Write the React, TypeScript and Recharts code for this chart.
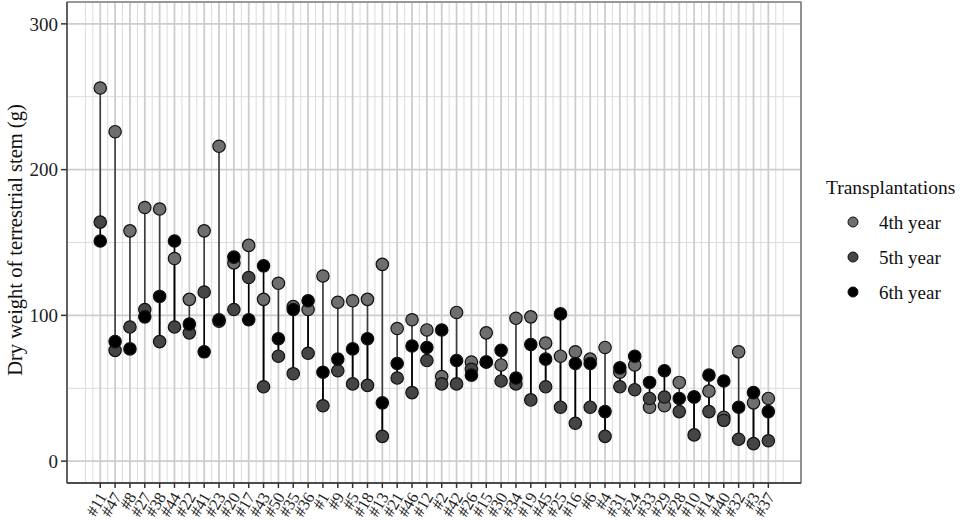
import React from "react";
import { ComposedChart, Scatter, XAxis, YAxis, CartesianGrid, ErrorBar, ReferenceArea } from "recharts";

const FONT = '"Liberation Serif", "Times New Roman", "DejaVu Serif", serif';

const categories = ["#11","#47","#8","#27","#38","#44","#22","#41","#23","#20","#17","#43","#50","#35","#36","#1","#9","#5","#18","#13","#21","#46","#12","#2","#42","#26","#15","#30","#34","#19","#45","#25","#16","#6","#4","#31","#24","#33","#29","#28","#10","#14","#40","#32","#3","#37"];
const year4 = [256,226,158,174,173,139,111,158,216,136,148,111,122,106,104,127,109,110,111,135,91,97,90,58,102,68,88,66,98,99,81,72,75,70,78,61,66,37,38,54,44,48,30,75,40,43];
const year5 = [164,76,92,104,82,92,88,116,96,104,126,51,72,60,74,38,62,53,52,17,57,47,69,53,53,63,68,55,53,42,51,37,26,37,17,51,49,43,44,34,18,34,28,15,12,14];
const year6 = [151,82,77,99,113,151,94,75,97,140,97,134,84,104,110,61,70,77,84,40,67,79,78,90,69,59,68,76,57,80,70,101,67,67,34,64,72,54,62,43,44,59,55,37,47,34];

const yTicks = [0, 100, 200, 300];
const yMinorTicks = [50, 150, 250];
const seriesNames = ["4th year", "5th year", "6th year"];
const seriesFills = ["#6e6e6e", "#454545", "#000000"];
const yTitle = "Dry weight of terrestrial stem (g)";
const legendTitle = "Transplantations";

const X_DOMAIN: [number, number] = [-1.24, 48.2];
const Y_DOMAIN: [number, number] = [-15, 315];

const span = (a: number, b: number) => (b < a ? [a - b, 0] : [0, b - a]);

const rows = categories.map((label, i) => ({
  pos: i + 1,
  label,
  y4: year4[i],
  y5: year5[i],
  y6: year6[i],
  d45: span(year4[i], year5[i]),
  d56: span(year5[i], year6[i]),
}));

const xTicks = rows.map((r) => r.pos);
const xMinor = [0, 0.5, ...rows.map((r) => r.pos + 0.5), rows.length + 1];

const mapX = (v: number, xAxis: any, offset: any) => {
  if (xAxis && typeof xAxis.scale === "function") return xAxis.scale(v);
  return offset.left + ((v - X_DOMAIN[0]) / (X_DOMAIN[1] - X_DOMAIN[0])) * offset.width;
};
const mapY = (v: number, yAxis: any, offset: any) => {
  if (yAxis && typeof yAxis.scale === "function") return yAxis.scale(v);
  return offset.top + ((Y_DOMAIN[1] - v) / (Y_DOMAIN[1] - Y_DOMAIN[0])) * offset.height;
};

const minorV = (args: any) => xMinor.map((v) => mapX(v, args.xAxis, args.offset));
const minorH = (args: any) => yMinorTicks.map((v) => mapY(v, args.yAxis, args.offset));

const makeDot = (fill: string) => (p: any) => (
  <circle cx={p.cx} cy={p.cy} r={6.2} fill={fill} stroke="#111" strokeWidth={1.2} />
);
const noDot = () => <g />;

const errKey = (k: string) => (p: any) => (p && p[k] !== undefined ? p[k] : p && p.payload ? p.payload[k] : [0, 0]);

const XTick = (props: any) => {
  const { x, y, payload } = props;
  const label = categories[Math.round(payload.value) - 1] ?? "";
  const ax = x + 7;
  const ay = y + 6.5;
  return (
    <text x={ax} y={ay} transform={`rotate(-60 ${ax} ${ay})`} textAnchor="end" fontSize={16.5} fontFamily={FONT} fill="#222">
      {label}
    </text>
  );
};

const YTitle = () => (
  <text x={22} y={240} transform="rotate(-90 22 240)" textAnchor="middle" fontSize={20.5} fontFamily={FONT} fill="#111">
    {yTitle}
  </text>
);

const LegendBox = () => {
  const rowsY = [222, 257, 292];
  return (
    <svg width={960} height={520} style={{ position: "absolute", left: 0, top: 0, pointerEvents: "none" }}>
      <text x={826} y={187} dominantBaseline="central" fontSize={19.5} fontFamily={FONT} fill="#111">
        {legendTitle}
      </text>
      {seriesNames.map((n, i) => (
        <g key={n}>
          <circle cx={853} cy={rowsY[i]} r={5} fill={seriesFills[i]} stroke="#111" strokeWidth={1} />
          <text x={879} y={rowsY[i]} dominantBaseline="central" fontSize={19} fontFamily={FONT} fill="#111">
            {n}
          </text>
        </g>
      ))}
    </svg>
  );
};

export default function App() {
  return (
    <div style={{ position: "absolute", left: 0, top: 0, width: 960, height: 520, background: "#fff" }}>
      <ComposedChart width={960} height={520} data={rows} margin={{ top: 2, right: 159, bottom: 0, left: 0 }}>
        <CartesianGrid stroke="#dcdcdc" strokeWidth={1} verticalCoordinatesGenerator={minorV} horizontalCoordinatesGenerator={minorH} />
        <CartesianGrid stroke="#cdcdcd" strokeWidth={1.8} />
        <XAxis
          type="number"
          dataKey="pos"
          domain={X_DOMAIN}
          ticks={xTicks}
          interval={0}
          allowDataOverflow
          height={37}
          tickSize={5}
          tickMargin={2}
          axisLine={{ stroke: "#333", strokeWidth: 1.5 }}
          tickLine={{ stroke: "#333", strokeWidth: 1.5 }}
          tick={<XTick />}
        />
        <YAxis
          type="number"
          domain={Y_DOMAIN}
          ticks={yTicks}
          allowDataOverflow
          width={67}
          tickSize={6}
          tickMargin={3}
          axisLine={{ stroke: "#444", strokeWidth: 1.2 }}
          tickLine={{ stroke: "#333", strokeWidth: 1.5 }}
          tick={{ fontSize: 19, fontFamily: FONT, fill: "#222" }}
          label={<YTitle />}
        />
        <ReferenceArea x1={X_DOMAIN[0]} x2={X_DOMAIN[1]} y1={Y_DOMAIN[0]} y2={Y_DOMAIN[1]} fill="none" stroke="#666" strokeWidth={1.2} ifOverflow="visible" />
        <Scatter dataKey="y4" isAnimationActive={false} shape={noDot} legendType="none">
          <ErrorBar dataKey={errKey("d45")} direction="y" width={0} stroke="#3c3c3c" strokeWidth={1.6} isAnimationActive={false} />
        </Scatter>
        <Scatter dataKey="y5" isAnimationActive={false} shape={noDot} legendType="none">
          <ErrorBar dataKey={errKey("d56")} direction="y" width={0} stroke="#000" strokeWidth={1.6} isAnimationActive={false} />
        </Scatter>
        <Scatter name={seriesNames[0]} dataKey="y4" isAnimationActive={false} shape={makeDot(seriesFills[0])} />
        <Scatter name={seriesNames[1]} dataKey="y5" isAnimationActive={false} shape={makeDot(seriesFills[1])} />
        <Scatter name={seriesNames[2]} dataKey="y6" isAnimationActive={false} shape={makeDot(seriesFills[2])} />
      </ComposedChart>
      <LegendBox />
    </div>
  );
}
